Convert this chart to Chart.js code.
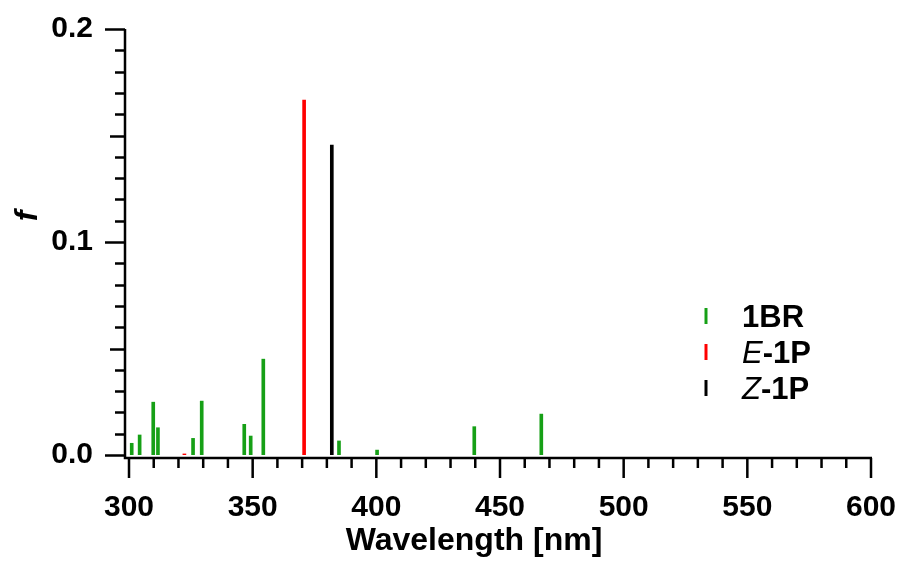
<!DOCTYPE html>
<html>
<head>
<meta charset="utf-8">
<script src="https://cdn.jsdelivr.net/npm/chart.js@4/dist/chart.umd.min.js"></script>
<style>
  html, body { margin: 0; padding: 0; background: #fff; }
  #wrap { width: 902px; height: 565px; position: relative; }
</style>
</head>
<body>
<div id="wrap"><canvas id="chart"></canvas></div>
<script>
// oscillator strengths
const wl1BR = [301.1, 304.3, 309.8, 311.7, 325.9, 329.4, 346.6, 349.2, 354.3, 384.9, 400.3, 439.6, 466.7];
const f1BR = [0.0055, 0.0094, 0.0248, 0.0128, 0.0078, 0.0253, 0.0144, 0.0089, 0.045, 0.0066, 0.0023, 0.0133, 0.0192];
const wlE1P = [322.4, 370.8];
const fE1P = [0.0005, 0.1666];
const wlZ1P = [382.0];
const fZ1P = [0.1455];

const seriesNames = ["1BR", "E-1P", "Z-1P"];
const seriesColors = ["#16a016", "#ff0000", "#000000"];

const xMin = 300, xMax = 600, xMajor = 50, xMinor = 10;
const yMin = 0, yMax = 0.2, yMajor = 0.1, yMinor = 0.01;

const FONT = '"Liberation Sans", Arial, sans-serif';

const toPoints = (xs, ys) => xs.map((x, i) => ({ x: x, y: ys[i] }));

// drop chart.js' own label overflow padding, the layout padding below handles it
const noOverflow = (scale) => {
    scale.paddingTop = 0;
    scale.paddingBottom = 0;
    scale.paddingLeft = 0;
    scale.paddingRight = 0;
};

// axis lines, ticks, titles and legend (Igor style, offset axes)
const axesPlugin = {
    id: "axes",
    afterDraw(chart) {
        const ctx = chart.ctx;
        const xs = chart.scales.x;
        const ys = chart.scales.y;
        const area = chart.chartArea;
        const axX = area.left - 4;
        const axY = area.bottom + 3;

        ctx.save();
        ctx.strokeStyle = "#000";
        ctx.lineWidth = 2.5;
        ctx.lineCap = "butt";

        ctx.beginPath();
        ctx.moveTo(axX, area.top);
        ctx.lineTo(axX, axY + 1.25);
        ctx.moveTo(axX - 1.25, axY);
        ctx.lineTo(area.right + 1, axY);
        ctx.stroke();

        // y ticks
        ctx.beginPath();
        const nY = Math.round((yMax - yMin) / yMinor);
        for (let i = 0; i <= nY; i++) {
            const v = yMin + i * yMinor;
            const py = Math.round(ys.getPixelForValue(v)) + 0.5;
            let len = 10;
            if (i % 10 === 0) len = 20;
            else if (i % 5 === 0) len = 15;
            ctx.moveTo(axX, py);
            ctx.lineTo(axX - len, py);
        }
        // x ticks
        const nX = Math.round((xMax - xMin) / xMinor);
        for (let i = 0; i <= nX; i++) {
            const v = xMin + i * xMinor;
            const px = xs.getPixelForValue(v);
            const len = (v % xMajor === 0) ? 20 : 10;
            ctx.moveTo(px, axY);
            ctx.lineTo(px, axY + len);
        }
        ctx.stroke();

        // axis titles
        ctx.fillStyle = "#000";
        ctx.textAlign = "center";
        ctx.textBaseline = "alphabetic";
        ctx.font = "bold 32px " + FONT;
        ctx.fillText("Wavelength [nm]", 474, 550);

        ctx.save();
        ctx.translate(37, 216);
        ctx.rotate(-Math.PI / 2);
        ctx.font = "italic bold 32px " + FONT;
        ctx.fillText("f", 0, 0);
        ctx.restore();

        // legend
        const rows = [316, 352, 388];
        chart.data.datasets.forEach((ds, i) => {
            const cy = rows[i];
            ctx.strokeStyle = ds.backgroundColor;
            ctx.lineWidth = 3;
            ctx.beginPath();
            ctx.moveTo(706, cy - 8);
            ctx.lineTo(706, cy + 8);
            ctx.stroke();

            ctx.textAlign = "left";
            let x = 742;
            const base = cy + 11;
            const name = ds.label;
            const dash = name.indexOf("-");
            if (dash > 0) {
                ctx.font = "italic 31px " + FONT;
                const head = name.slice(0, dash);
                ctx.fillText(head, x, base);
                x += ctx.measureText(head).width;
                ctx.font = "bold 31px " + FONT;
                ctx.fillText(name.slice(dash), x, base);
            } else {
                ctx.font = "bold 31px " + FONT;
                ctx.fillText(name, x, base);
            }
        });
        ctx.restore();
    },
};

const ctx = document.getElementById("chart").getContext("2d");

new Chart(ctx, {
    type: "bar",
    data: {
        datasets: [
            {
                label: seriesNames[0],
                data: toPoints(wl1BR, f1BR),
                backgroundColor: seriesColors[0],
            },
            {
                label: seriesNames[1],
                data: toPoints(wlE1P, fE1P),
                backgroundColor: seriesColors[1],
            },
            {
                label: seriesNames[2],
                data: toPoints(wlZ1P, fZ1P),
                backgroundColor: seriesColors[2],
            },
        ],
    },
    options: {
        responsive: true,
        maintainAspectRatio: false,
        animation: false,
        devicePixelRatio: 1,
        grouped: false,
        barThickness: 3,
        borderWidth: 0,
        layout: {
            padding: { top: 29, right: 31, bottom: 0, left: 0 },
        },
        plugins: {
            legend: { display: false },
            tooltip: { enabled: false },
        },
        scales: {
            x: {
                type: "linear",
                offset: false,
                min: xMin,
                max: xMax,
                grid: { display: false, drawTicks: false },
                border: { display: false },
                ticks: {
                    stepSize: xMajor,
                    padding: 35,
                    color: "#000",
                    font: { family: FONT, size: 30, weight: "bold" },
                    maxRotation: 0,
                },
                afterFit(scale) {
                    scale.height = 110;
                    noOverflow(scale);
                },
            },
            y: {
                min: yMin,
                max: yMax,
                grid: { display: false, drawTicks: false },
                border: { display: false },
                ticks: {
                    stepSize: yMajor,
                    padding: 36,
                    color: "#000",
                    font: { family: FONT, size: 30, weight: "bold" },
                    callback: (v) => v.toFixed(1),
                },
                afterFit(scale) {
                    scale.width = 129;
                    noOverflow(scale);
                },
            },
        },
    },
    plugins: [axesPlugin],
});
</script>
</body>
</html>
